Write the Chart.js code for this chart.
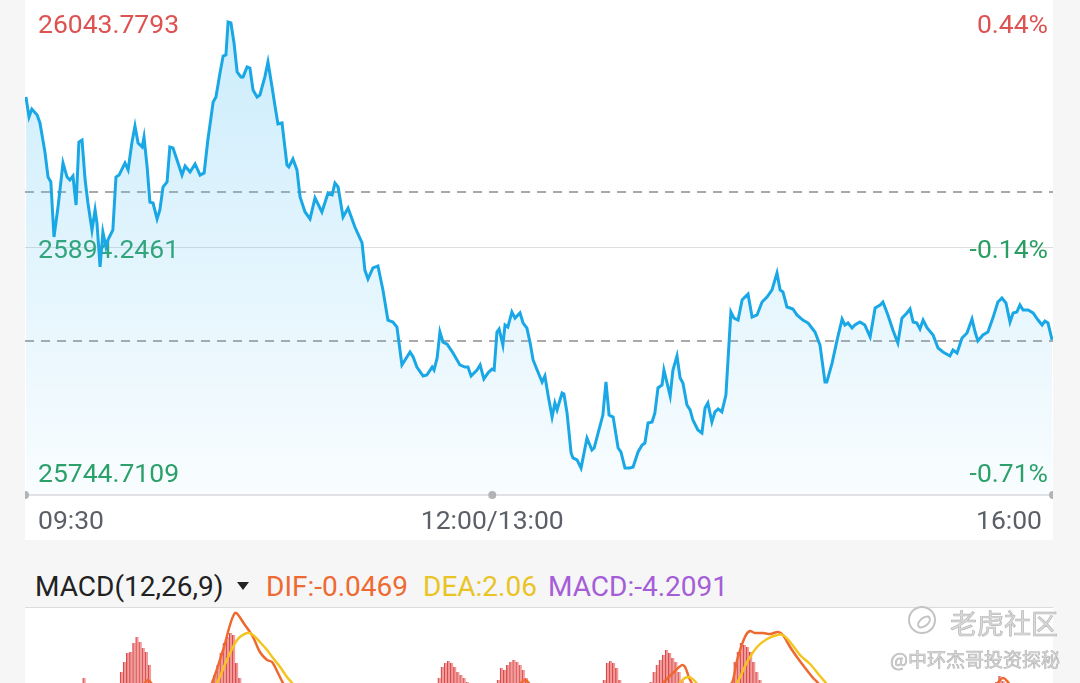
<!DOCTYPE html>
<html>
<head>
<meta charset="utf-8">
<script src="https://cdn.jsdelivr.net/npm/chart.js@4.4.0/dist/chart.umd.min.js"></script>
<style>
html, body { margin: 0; padding: 0; width: 1080px; height: 683px; overflow: hidden; background: #f6f6f6; font-family: Roboto, sans-serif; }
#topBox { position: absolute; left: 25px; top: 0; width: 1028px; height: 540px; background: #fff; }
#macdBox { position: absolute; left: 25px; top: 608px; width: 1028px; height: 200px; background: #fff; }
#sep { position: absolute; left: 25px; top: 607px; width: 1028px; height: 1px; background: #dcdcdc; }
.hd { position: absolute; top: 573px; font-size: 28px; line-height: 28px; white-space: nowrap; }
#tri { position: absolute; left: 237px; top: 582px; width: 0; height: 0; border-left: 6px solid transparent; border-right: 6px solid transparent; border-top: 8px solid #222; }
.wm { position: absolute; white-space: nowrap; font-family: "Noto Sans CJK SC", sans-serif; color: #dadada; -webkit-text-stroke: 0.7px #b8b8b8; }
#logo { position: absolute; left: 908px; top: 606px; width: 24px; height: 24px; border: 2px solid #c4c4c4; border-radius: 50%; }
#logo i { position: absolute; left: 6px; top: 9px; width: 12px; height: 6px; border: 2px solid #c4c4c4; border-radius: 50%; transform: rotate(-40deg); }
</style>
</head>
<body>
<div id="topBox"><canvas id="price" width="1028" height="540"></canvas></div>

<div class="hd" style="left:35px;color:#222;">MACD(12,26,9)</div>
<div id="tri"></div>
<div class="hd" style="left:266px;color:#ef6a32;">DIF:-0.0469</div>
<div class="hd" style="left:423px;color:#e9c424;">DEA:2.06</div>
<div class="hd" style="left:548px;color:#a55dd8;">MACD:-4.2091</div>

<div id="sep"></div>
<div id="macdBox"><canvas id="macd" width="1028" height="200"></canvas></div>

<div id="logo"><i></i></div>
<div class="wm" style="left:950px;top:603px;font-size:27px;">老虎社区</div>
<div class="wm" style="left:890px;top:645px;font-size:19px;">@中环杰哥投资探秘</div>

<script>
// intraday price, minutes from 09:30 (lunch break removed)
const times = [0.3,1.3,2.2,3.9,4.8,6.4,7.4,8.3,9.3,10.6,12.2,13.5,14.4,15.4,16.4,17.3,18.3,19.3,20.2,21.5,
  22.5,23.1,24.1,25.0,26.0,26.6,28.2,29.2,30.2,32.1,33.1,34.3,35.3,36.3,37.6,38.2,39.2,40.1,41.1,42.4,
  43.3,44.3,45.6,46.5,47.5,48.8,50.4,51.4,53.0,54.6,56.2,57.5,58.7,60.4,61.3,62.6,63.6,64.5,65.2,66.1,
  67.1,68.1,69.3,70.0,71.3,72.2,73.2,74.5,75.4,77.0,78.0,79.3,80.3,81.2,82.5,84.1,84.7,86.0,87.3,88.3,
  89.9,91.5,93.1,95.3,97.3,98.6,99.5,100.5,102.1,103.7,105.9,108.2,109.1,110.1,111.7,113.3,114.9,116.5,118.1,119.4,
  121.0,122.0,123.6,124.6,125.8,127.8,129.0,130.7,131.3,132.3,133.2,134.2,135.5,137.4,139.6,141.2,142.2,143.2,145.1,146.1,
  147.3,148.6,149.9,150.6,151.5,152.2,153.4,154.1,155.0,156.3,157.3,158.9,159.9,161.1,162.1,163.1,164.4,166.0,166.9,167.9,
  169.2,170.1,170.8,172.4,173.0,174.0,175.3,175.9,177.2,178.5,180.4,182.0,182.7,184.9,185.5,186.5,187.5,188.8,190.4,191.3,
  192.6,194.2,195.2,196.8,198.1,199.0,200.0,201.3,202.2,203.2,204.5,205.1,206.1,207.1,208.0,209.3,210.3,211.2,212.5,213.5,
  214.4,216.0,217.3,218.3,219.2,220.5,221.5,222.5,223.7,225.0,226.6,227.6,228.9,230.2,231.1,232.1,233.4,235.0,236.6,238.2,
  239.8,241.4,242.4,243.3,244.6,245.6,246.5,247.8,249.7,251.4,252.6,253.6,255.2,256.8,257.4,259.1,260.7,262.3,263.2,264.2,
  265.5,266.4,268.0,269.6,271.3,272.9,274.5,275.4,277.0,278.6,280.2,281.5,283.1,284.1,285.1,286.3,287.3,288.3,289.6,291.5,
  293.1,294.7,296.9,297.9,299.2,300.8,302.4,304.0,305.0,305.9,307.5,309.1,310.7,312.3,313.6,314.9,316.2,317.2,318.4,319.4,
  320.4,322.0,323.6,325.2,326.5,327.4,328.4,329.7];
const prices = [25985.2,25973.1,25977.9,25974.3,25969.5,25951.9,25936.8,25933.8,25900.6,25918.7,
  25945.3,25936.8,25935.0,25937.4,25919.9,25958.0,25959.2,25935.0,25921.1,25904.8,
  25916.9,25909.0,25882.5,25903.6,25894.5,25898.8,25904.8,25936.8,25938.0,25945.3,
  25941.1,25957.4,25967.6,25957.4,25955.0,25961.0,25942.9,25921.7,25921.1,25911.5,
  25916.9,25930.8,25933.8,25955.0,25954.4,25947.1,25938.0,25943.5,25939.9,25944.7,
  25938.0,25939.3,25959.2,25982.2,25985.2,25999.7,26009.9,26010.6,26030.5,26029.9,
  26017.8,26000.3,25997.3,25997.3,26003.3,26002.7,25989.4,25985.2,25986.4,25997.3,
  26006.3,25991.2,25979.1,25968.9,25969.5,25944.1,25942.9,25947.7,25941.1,25924.8,
  25915.7,25911.5,25924.2,25915.7,25927.2,25926.0,25933.2,25930.8,25912.7,25918.1,
  25906.6,25897.0,25880.6,25875.2,25881.9,25883.1,25868.6,25850.4,25849.2,25846.2,
  25823.3,25826.3,25831.1,25828.1,25822.0,25816.6,25817.2,25822.0,25820.2,25827.5,
  25843.2,25837.1,25835.9,25830.5,25823.3,25822.0,25822.0,25816.6,25820.2,25823.3,
  25814.8,25818.4,25820.8,25820.2,25843.2,25845.0,25835.3,25847.4,25846.2,25855.3,
  25851.6,25854.7,25848.6,25845.6,25837.1,25826.3,25820.2,25813.0,25816.6,25805.1,
  25791.8,25800.3,25796.1,25806.3,25805.7,25794.3,25770.1,25767.1,25765.9,25761.0,
  25779.1,25771.9,25773.1,25788.8,25793.0,25813.0,25793.0,25791.8,25773.1,25770.7,
  25761.0,25761.0,25761.6,25770.7,25774.9,25776.1,25788.2,25788.8,25794.3,25809.4,
  25811.2,25820.2,25812.4,25804.5,25820.2,25828.7,25815.4,25812.4,25799.1,25796.1,
  25790.0,25784.0,25782.2,25797.3,25800.3,25788.8,25794.9,25796.7,25794.9,25805.1,
  25855.3,25851.6,25850.4,25862.5,25864.3,25866.1,25852.2,25853.5,25861.3,25864.3,
  25868.6,25878.8,25868.6,25867.4,25858.3,25857.7,25857.1,25853.5,25850.4,25848.6,
  25845.6,25843.2,25835.3,25813.0,25813.0,25824.5,25838.4,25851.0,25847.4,25848.6,
  25845.6,25847.4,25849.2,25847.4,25840.2,25857.7,25859.5,25861.3,25853.5,25844.4,
  25836.5,25851.6,25854.7,25857.1,25849.2,25848.6,25845.0,25850.4,25845.6,25841.4,
  25833.5,25831.1,25828.7,25832.3,25830.5,25839.6,25842.6,25851.0,25843.2,25837.8,
  25841.4,25843.2,25851.6,25861.3,25863.7,25860.7,25849.2,25854.7,25855.3,25859.5,
  25856.5,25856.5,25854.7,25850.4,25847.4,25849.8,25848.6,25838.4];

const yMax = 26043.7793;
const yMin = 25744.7109;
const priceLabels = ['26043.7793', '25894.2461', '25744.7109'];
const pctLabels = ['0.44%', '-0.14%', '-0.71%'];
const timeLabels = ['09:30', '12:00/13:00', '16:00'];
const timeTicks = [0, 150, 330];
const refLines = [25928, 25838];   // dashed: prev close, second ref

// MACD panel (only the top of it is on screen)
const macdTimes = [18,19,20, 31,32,33,34,35,36,37,38,39,40, 60,61,62,63,64,65,66,67,68,69,
  133,134,135,136,137,138,139,140,141,142, 152,153,154,155,156,157,158,159,160,161,
  186,187,188,189,190,191, 201,202,203,204,205,206,207,208,209,210,211,
  227,228,229,230,231,232,233,234,235,236, 312,313,314];
const macdBars = [4.8,6.0,4.6, 7.2,9.2,11.0,11.2,13.0,14.2,13.2,12.0,11.2,8.6, 5.0,6.6,8.6,11.0,13.0,14.2,15.0,14.6,9.0,6.0,
  6.0,8.2,9.0,9.4,9.0,8.2,7.2,6.6,6.0,5.2, 5.6,8.0,7.6,8.6,9.2,9.6,9.2,8.6,7.6,6.0,
  5.6,9.0,9.4,9.0,8.0,5.6, 5.2,7.2,8.6,9.6,10.6,11.6,11.0,10.0,9.2,7.2,5.6,
  5.2,9.2,11.2,13.0,12.6,12.2,11.2,9.2,7.2,5.6, 5.2,6.4,5.4];
const difTimes = [36,38,39.5,41,43,43, 57,60,63.6,67.4,70.6,73.2,75.4,77.7,79.3,81.2,82.8,86,86,
  158,160.5,163,163, 202,204.8,208,210.9,211.9,213.5,216,216,
  224,227,228.6,231.1,232.7,234.3,236.9,239.2,241.7,243.3,245.6,247.8,249.7,253,254.6,257,257, 311,314,317];
const difValues = [3,4.6,5.6,4.6,3,null, 2,5,11.6,19,16.6,14.2,11.2,9.6,9.2,7,5,2,null,
  4,5.6,4,null, 3,5,7,8.6,8.2,5.6,3,null,
  2,5,9.6,14.2,15.4,15,15,14.8,15.2,14.6,12.2,10.2,8.6,6,5,3,null, 4,6,4];
const deaTimes = [58,61.6,64.8,68.1,71.3,73.2,75.4,77.7,79.6,81.9,84.1,85.7,89,89,
  208,211,213,215,218,218,
  225,228.6,231.8,235,238.2,241.4,243.3,245.6,248.8,252,255.2,257.1,260];
const deaValues = [2,5,9.6,13.6,15,14.6,13.2,11.6,10,8.2,6.2,5,2,null,
  3,5.6,6.2,5.4,3,null,
  2,5,9.2,12.2,13.8,14.6,14.6,13.2,10.6,8.8,6.4,5,2];

const pts = (xs, ys) => xs.map((t, i) => ({ x: t, y: ys[i] }));

const overlay = {
  id: 'overlay',
  beforeDatasetsDraw(chart) {
    const { ctx, chartArea: a, scales: { x, y } } = chart;
    ctx.save();
    // middle grid line
    const ym = Math.round(y.getPixelForValue((yMax + yMin) / 2)) + 0.5;
    ctx.strokeStyle = '#dedede';
    ctx.lineWidth = 1;
    ctx.beginPath(); ctx.moveTo(a.left, ym); ctx.lineTo(a.right, ym); ctx.stroke();
    // dashed reference lines
    ctx.setLineDash([9, 7]);
    ctx.strokeStyle = '#a9a9a9';
    ctx.lineWidth = 2;
    refLines.forEach(v => {
      const py = Math.round(y.getPixelForValue(v));
      ctx.beginPath(); ctx.moveTo(a.left, py); ctx.lineTo(a.right, py); ctx.stroke();
    });
    ctx.setLineDash([]);
    // bottom axis + dots
    ctx.strokeStyle = '#e3e3e3';
    ctx.lineWidth = 2;
    ctx.beginPath(); ctx.moveTo(a.left, a.bottom); ctx.lineTo(a.right, a.bottom); ctx.stroke();
    ctx.fillStyle = '#b3b3b3';
    timeTicks.forEach(t => {
      ctx.beginPath(); ctx.arc(x.getPixelForValue(t), a.bottom, 4, 0, Math.PI * 2); ctx.fill();
    });
    // price / percent labels
    ctx.font = '26.5px Roboto';
    const base = [a.top + 33, y.getPixelForValue((yMax + yMin) / 2) + 10, a.bottom - 13];
    priceLabels.forEach((s, i) => {
      ctx.fillStyle = i === 0 ? '#dc5351' : '#2a9e62';
      ctx.textAlign = 'left';
      ctx.fillText(s, a.left + 13, base[i]);
      ctx.textAlign = 'right';
      ctx.fillText(pctLabels[i], a.right - 5, base[i]);
    });
    // time labels
    ctx.fillStyle = '#5b6068';
    const aligns = ['left', 'center', 'right'];
    timeLabels.forEach((s, i) => {
      let px = x.getPixelForValue(timeTicks[i]);
      if (i === 0) px = a.left + 13;
      if (i === 2) px = a.right - 11;
      ctx.textAlign = aligns[i];
      ctx.fillText(s, px, a.bottom + 34);
    });
    ctx.restore();
  }
};

new Chart(document.getElementById('price'), {
  type: 'line',
  data: {
    datasets: [{
      data: pts(times, prices),
      borderColor: '#19a8e5',
      borderWidth: 3,
      pointRadius: 0,
      tension: 0,
      fill: 'start',
      backgroundColor: (c) => {
        const area = c.chart.chartArea;
        if (!area) return 'rgba(90,195,245,0.2)';
        const g = c.chart.ctx.createLinearGradient(0, area.top, 0, area.bottom);
        g.addColorStop(0, 'rgba(90,195,245,0.32)');
        g.addColorStop(1, 'rgba(90,195,245,0.04)');
        return g;
      }
    }]
  },
  options: {
    responsive: false,
    animation: false,
    layout: { padding: { top: 0, bottom: 45, left: 0, right: 0 } },
    plugins: { legend: { display: false }, tooltip: { enabled: false } },
    scales: {
      x: { type: 'linear', min: 0, max: 330, display: false },
      y: { min: yMin, max: yMax, display: false }
    }
  },
  plugins: [overlay]
});

new Chart(document.getElementById('macd'), {
  type: 'bar',
  data: {
    datasets: [
      { type: 'line', label: 'DEA', data: pts(deaTimes, deaValues), borderColor: '#f4c51e', borderWidth: 2.5, pointRadius: 0, tension: 0.3 },
      { type: 'line', label: 'DIF', data: pts(difTimes, difValues), borderColor: '#ee6930', borderWidth: 2.5, pointRadius: 0, tension: 0.3 },
      { type: 'bar', label: 'MACD', data: pts(macdTimes, macdBars), backgroundColor: '#f29c9c', borderColor: '#d94c4c',
        borderWidth: { left: 1.3, right: 0, top: 0, bottom: 0 }, borderSkipped: false, barThickness: 3 }
    ]
  },
  options: {
    responsive: false,
    animation: false,
    layout: { padding: 0 },
    plugins: { legend: { display: false }, tooltip: { enabled: false } },
    scales: {
      x: { type: 'linear', min: 0, max: 330, offset: false, display: false },
      y: { min: -20, max: 20, display: false }
    }
  }
});
</script>
</body>
</html>
